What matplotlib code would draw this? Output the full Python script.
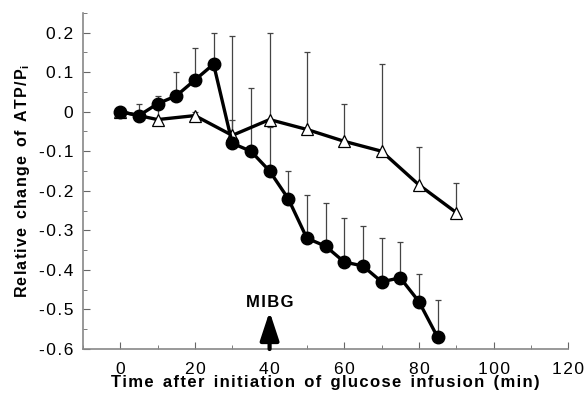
import matplotlib
matplotlib.use("Agg")
import matplotlib.pyplot as plt
from matplotlib.ticker import MultipleLocator

plt.rcParams["font.family"] = ["Liberation Sans", "DejaVu Sans"]

# MIBG group (filled circles)
t_mibg = [0, 5, 10, 15, 20, 25, 30, 35, 40, 45, 50, 55, 60, 65, 70, 75, 80, 85]
y_mibg = [0, -0.01, 0.02, 0.04, 0.08, 0.12, -0.08, -0.10, -0.15, -0.22,
          -0.32, -0.34, -0.38, -0.39, -0.43, -0.42, -0.48, -0.57]
top_mibg = [0, 0.02, 0.04, 0.10, 0.16, 0.20, -0.02, 0.06, -0.04, -0.15,
            -0.21, -0.23, -0.27, -0.29, -0.32, -0.33, -0.41, -0.475]

# control group (open triangles)
t_ctrl = [0, 10, 20, 30, 40, 50, 60, 70, 80, 90]
y_ctrl = [0, -0.02, -0.01, -0.06, -0.02, -0.045, -0.075, -0.10, -0.185, -0.255]
top_ctrl = [0, 0.03, 0.0, 0.19, 0.20, 0.15, 0.02, 0.12, -0.09, -0.18]

xticks = [0, 20, 40, 60, 80, 100, 120]
yticks = [0.2, 0.1, 0, -0.1, -0.2, -0.3, -0.4, -0.5, -0.6]
ytick_labels = ["0.2", "0.1", "0", "-0.1", "-0.2", "-0.3", "-0.4", "-0.5", "-0.6"]

HS = "\u200a"  # hair space, to mimic the wide letter spacing of the original


def spaced(s):
    return HS.join(s)


fig = plt.figure(figsize=(5.84, 3.98), dpi=100)
ax = fig.add_axes([0.142, 0.123, 0.831, 0.845])

err_c = [[0] * len(y_mibg), [max(0, a - b) for a, b in zip(top_mibg, y_mibg)]]
err_t = [[0] * len(y_ctrl), [max(0, a - b) for a, b in zip(top_ctrl, y_ctrl)]]

ax.errorbar(t_ctrl, y_ctrl, yerr=err_t, fmt="none", ecolor="#444444",
            elinewidth=0.9, capsize=2.5, capthick=0.9, zorder=1)
ax.errorbar(t_mibg, y_mibg, yerr=err_c, fmt="none", ecolor="#444444",
            elinewidth=0.9, capsize=2.5, capthick=0.9, zorder=1)

ax.plot(t_ctrl, y_ctrl, color="black", lw=2.4, marker="^", ms=8.5,
        mfc="white", mec="black", mew=0.9, zorder=2)
ax.plot(t_mibg, y_mibg, color="black", lw=2.4, marker="o", ms=9,
        mfc="black", mec="black", zorder=3)

# MIBG injection arrow
ax.annotate("", xy=(40, -0.505), xytext=(40, -0.6),
            arrowprops=dict(arrowstyle="-|>,head_width=0.38,head_length=1.15",
                            mutation_scale=15, color="black", lw=3,
                            shrinkA=0, shrinkB=0),
            annotation_clip=False, zorder=4)
ax.text(40, -0.483, spaced("MIBG"), ha="center", va="center", fontsize=12,
        fontweight="bold")

ax.set_xlim(-10, 120)
ax.set_ylim(-0.6, 0.25)
ax.xaxis.set_minor_locator(MultipleLocator(10))
ax.yaxis.set_minor_locator(MultipleLocator(0.05))
ax.set_xticks(xticks)
ax.set_xticklabels([spaced(str(v)) for v in xticks])
ax.set_yticks(yticks)
ax.set_yticklabels([spaced(s) for s in ytick_labels])

for s in ["top", "right"]:
    ax.spines[s].set_visible(False)
for s in ["left", "bottom"]:
    ax.spines[s].set_color("#888888")
    ax.spines[s].set_linewidth(1.2)
ax.tick_params(which="both", direction="in", color="#666666", labelsize=12.5)
ax.tick_params(axis="y", pad=7)
ax.tick_params(axis="x", pad=9)
ax.tick_params(which="major", length=5)
ax.tick_params(which="minor", length=3)

xlab = "  ".join(spaced(w) for w in "Time after initiation of glucose infusion (min)".split())
ylab = "  ".join(spaced(w) for w in "Relative change of ATP/P".split())
ax.set_xlabel(xlab, fontsize=12, fontweight="bold", labelpad=-1)
ax.set_ylabel(ylab + "$_\\mathregular{i}$", fontsize=11.5,
              fontweight="bold", labelpad=5)

fig.savefig("out.png", dpi=100)
